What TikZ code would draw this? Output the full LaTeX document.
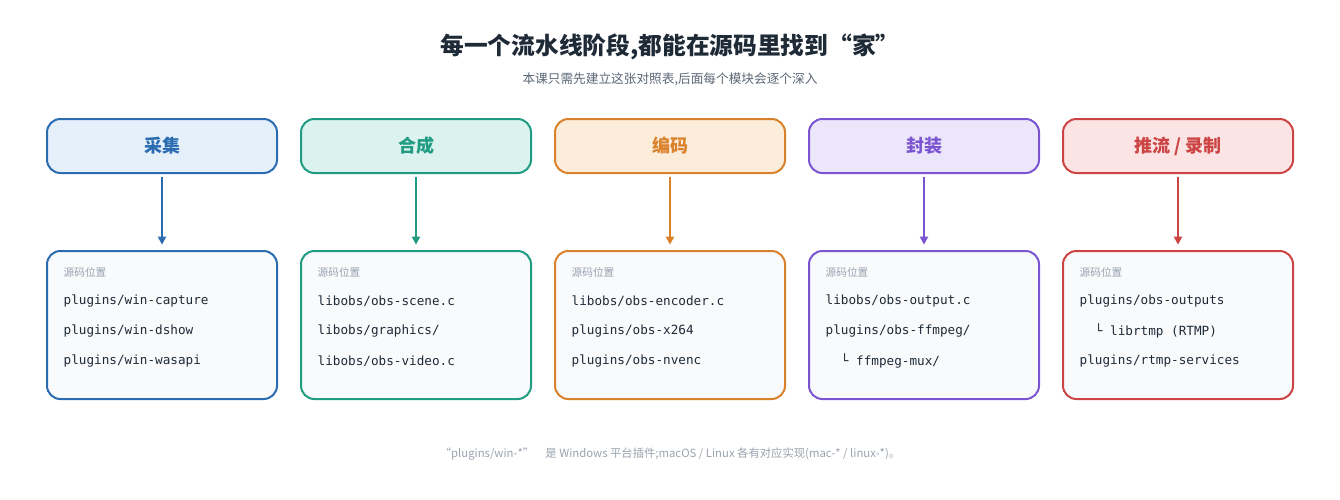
\documentclass[tikz,border=0pt]{standalone}
\usepackage{fontspec}
\setmainfont{Noto Sans CJK SC}
\newfontfamily\cjk{Noto Sans CJK SC}
\newfontfamily\code{DejaVu Sans Mono}
\usetikzlibrary{arrows.meta,calc}
\definecolor{cA}{HTML}{2B6CB0}\definecolor{fA}{HTML}{E5F0FB}
\definecolor{cB}{HTML}{1F9C82}\definecolor{fB}{HTML}{DCF2EE}
\definecolor{cC}{HTML}{D9822B}\definecolor{fC}{HTML}{FCEDDB}
\definecolor{cD}{HTML}{7B55D1}\definecolor{fD}{HTML}{ECE6FA}
\definecolor{cE}{HTML}{CC4444}\definecolor{fE}{HTML}{FCE4E4}
\definecolor{ttl}{HTML}{1F2A37}\definecolor{sub}{HTML}{5B6675}
\definecolor{lbl}{HTML}{9AA3AE}\definecolor{bfill}{HTML}{F8FAFC}
\begin{document}
\begin{tikzpicture}[x=0.75pt,y=-0.75pt,
 top/.style={draw=#1,line width=1.5pt,rounded corners=10pt,minimum width=172.5pt,minimum height=40.5pt,inner sep=0pt,font=\cjk\fontsize{13.5}{15}\selectfont\bfseries,text=#1},
 bot/.style={draw=#1,line width=1.5pt,rounded corners=10pt,fill=bfill,minimum width=172.5pt,minimum height=111pt,inner sep=0pt},
 arr/.style={draw=#1,line width=1.5pt,-{Triangle[length=6pt,width=6pt]}},
 lab/.style={anchor=west,font=\cjk\fontsize{8}{9}\selectfont,text=lbl},
 cd/.style={anchor=west,font=\code\fontsize{9.5}{10}\selectfont,text=ttl}]
\useasboundingbox (0,0) rectangle (1340,500);
\node[font=\cjk\fontsize{17.8}{20}\selectfont\bfseries,text=ttl] (title) at (670,47) {每一个流水线阶段,都能在源码里找到“家”};
\node[font=\cjk\fontsize{9.5}{11}\selectfont,text=sub] (subt) at (670,79) {本课只需先建立这张对照表,后面每个模块会逐个深入};
\foreach \i/\x/\c/\t in {1/162/A/采集,2/416/B/合成,3/670/C/编码,4/924/D/封装,5/1178/E/{推流 / 录制}}{
 \node[top=c\c,fill=f\c] (t\i) at (\x,146) {\t};
 \node[bot=c\c] (b\i) at (\x,325) {};
 \draw[arr=c\c] ($(t\i.south)+(0,-2pt)$) -- ($(b\i.north)+(0,4pt)$);
 \node[lab] (l\i) at (\x-103,272) {源码位置};
}
\node[cd] (a1) at (59,301) {plugins/win-capture};
\node[cd] (a2) at (59,331) {plugins/win-dshow};
\node[cd] (a3) at (59,361) {plugins/win-wasapi};
\node[cd] (b1x) at (313,301) {libobs/obs-scene.c};
\node[cd] (b2x) at (313,331) {libobs/graphics/};
\node[cd] (b3x) at (313,361) {libobs/obs-video.c};
\node[cd] (c1) at (567,301) {libobs/obs-encoder.c};
\node[cd] (c2) at (567,331) {plugins/obs-x264};
\node[cd] (c3) at (567,361) {plugins/obs-nvenc};
\node[cd] (d1) at (821,301) {libobs/obs-output.c};
\node[cd] (d2) at (821,331) {plugins/obs-ffmpeg/};
\node[cd] (d3) at (821,361) {\ \ └ ffmpeg-mux/};
\node[cd] (e1) at (1075,301) {plugins/obs-outputs};
\node[cd] (e2) at (1075,331) {\ \ └ librtmp (RTMP)};
\node[cd] (e3) at (1075,361) {plugins/rtmp-services};
\node[font=\cjk\fontsize{8.5}{10}\selectfont,text=lbl] (foot) at (670,454) {“plugins/win-*”\quad 是 Windows 平台插件;macOS / Linux 各有对应实现(mac-* / linux-*)。};
\end{tikzpicture}
\end{document}
